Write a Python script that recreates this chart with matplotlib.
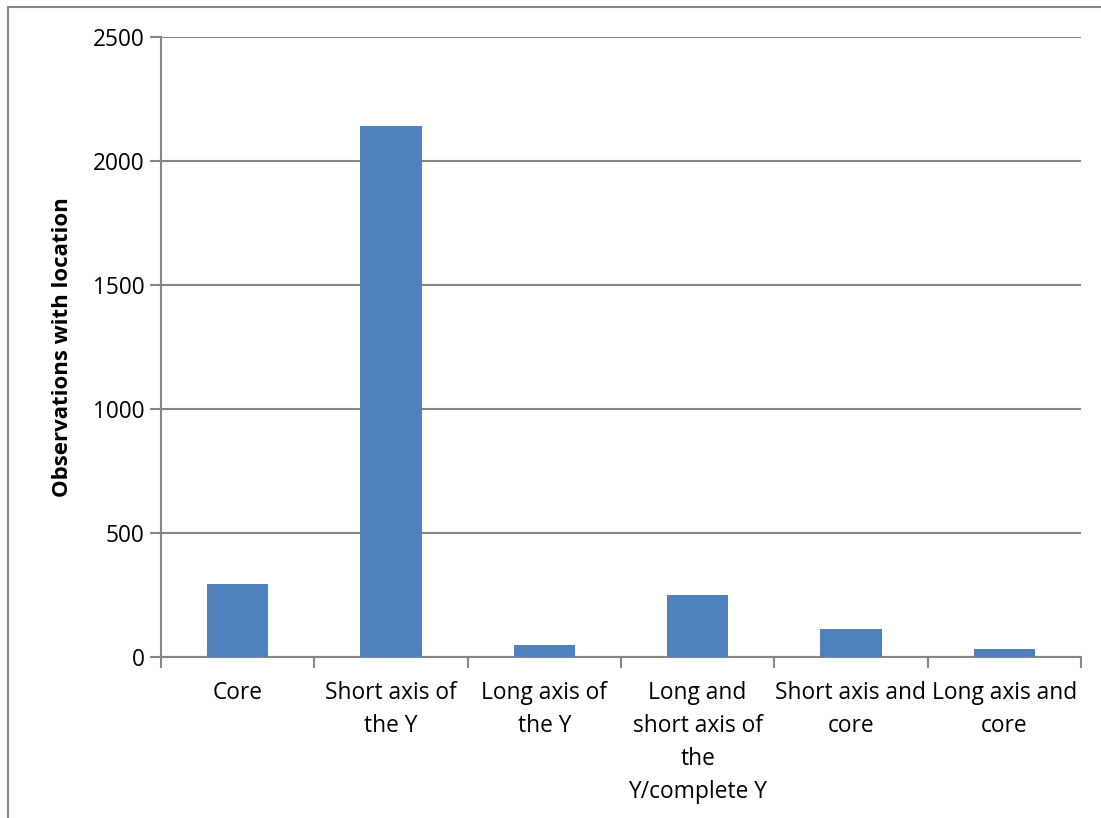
import matplotlib.pyplot as plt
from matplotlib.patches import Rectangle

categories = ["Core", "Short axis of\nthe Y", "Long axis of\nthe Y",
              "Long and\nshort axis of\nthe\nY/complete Y",
              "Short axis and\ncore", "Long axis and\ncore"]
values = [295, 2141, 48, 252, 113, 32]
yticks = [0, 500, 1000, 1500, 2000, 2500]

plt.rcParams['font.family'] = ['Open Sans', 'DejaVu Sans']

fig = plt.figure(figsize=(11.01, 8.18), dpi=100)
ax = fig.add_axes([161 / 1101, 1 - 657 / 818, 920 / 1101, 620 / 818])

gray = '#868686'
ax.bar(range(len(values)), values, width=0.4, color='#4F81BD', zorder=3)
ax.set_xlim(-0.5, len(values) - 0.5)
ax.set_ylim(0, 2500)
ax.set_yticks(yticks)
ax.set_yticklabels([str(v) for v in yticks], fontsize=16.3)
ax.yaxis.grid(True, color=gray, linewidth=1.5, zorder=0)

# category ticks sit between the bars
ax.set_xticks([i - 0.5 for i in range(len(values) + 1)], minor=False)
ax.set_xticklabels([])
ax.set_xticks(range(len(values)), minor=True)
ax.set_xticklabels(categories, minor=True, fontsize=16.4, linespacing=1.5)
ax.tick_params(axis='x', which='minor', length=0, pad=17)
ax.tick_params(axis='x', which='major', length=8, color=gray, width=1.5)
ax.tick_params(axis='y', length=8, color=gray, width=1.5, pad=4)

for s in ['top', 'right']:
    ax.spines[s].set_visible(False)
for s in ['left', 'bottom']:
    ax.spines[s].set_color(gray)
    ax.spines[s].set_linewidth(1.5)

ax.set_ylabel("Observations with location", fontsize=16, fontweight='bold', labelpad=14)

# chart border (right and bottom edges fall outside the image)
fig.patches.append(Rectangle((8 / 1101, -0.1), 1.2, 1 - 7 / 818 + 0.1,
                             transform=fig.transFigure, fill=False,
                             edgecolor=gray, linewidth=1.5))

fig.savefig("out.png", dpi=100)
